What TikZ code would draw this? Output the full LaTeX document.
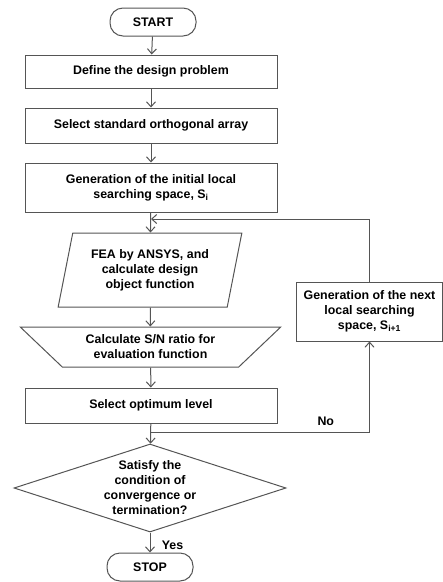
\documentclass[tikz,border=0pt]{standalone}
\usepackage{fontspec}
\setmainfont{Liberation Sans}
\usetikzlibrary{shapes.geometric,arrows.meta}
\definecolor{trait}{HTML}{555555}

\tikzset{
  boite/.style={draw=trait, rectangle, minimum width=252pt, align=center, inner sep=2pt},
  bout/.style={draw=trait, rectangle, rounded corners=13pt, minimum width=86pt, minimum height=28pt},
  fleche/.style={draw=trait, -{Straight Barb[length=5pt,width=9pt]}},
}

\begin{document}
\begin{tikzpicture}[x=1pt, y=-1pt, line width=1pt, font=\fontsize{12.4}{15}\selectfont\bfseries]
\useasboundingbox (0,0) rectangle (443,582);
% START / STOP
\node[bout] (start) at (153,22) {START};
\node[bout] (stop) at (150,567) {STOP};
% boxes of the main column
\node[boite, minimum height=33pt] (def) at (151,71.5) {Define the design problem};
\node[boite, minimum height=35pt] (sel) at (151,125.5) {Select standard orthogonal array};
\node[boite, minimum height=49pt] (gen) at (151,187.5) {Generation of the initial local\\searching space, S\textsubscript{i}};
\node[draw=trait, trapezium, trapezium left angle=75, trapezium right angle=105, trapezium stretches=true,
      minimum width=184pt, minimum height=74pt, inner sep=0pt, align=center] (fea) at (150,270)
      {FEA by ANSYS, and\\calculate design\\object function};
\node[draw=trait, trapezium, shape border rotate=180, trapezium left angle=38, trapezium right angle=38,
      trapezium stretches=true, minimum width=261pt, minimum height=40pt, inner sep=0pt, align=center] (sn) at (150.5,347)
      {Calculate S/N ratio for\\evaluation function};
\node[boite, minimum height=35pt] (opt) at (151,405.5) {Select optimum level};
% decision
\node[draw=trait, diamond, aspect=3.09, minimum width=272pt, minimum height=88pt, inner sep=0pt, align=center] (dec) at (150,488)
      {Satisfy the\\condition of\\convergence or\\termination?};
% box next space
\node[boite, minimum width=146pt, minimum height=59pt] (nxt) at (369.5,311.5) {Generation of the next\\local searching\\space, S\textsubscript{i+1}};
% arrows
\draw[fleche] (start) -- (def);
\draw[fleche] (def) -- (sel);
\draw[fleche] (sel) -- (gen);
\draw[fleche] (gen) -- (fea);
\draw[fleche] (fea) -- (sn);
\draw[fleche] (sn) -- (opt);
\draw[fleche] (opt) -- (dec);
\draw[fleche] (dec) -- node[right, xshift=8pt, yshift=-3pt] (yes) {Yes} (stop);
% loop
\coordinate (j1) at (opt.south |- 0,432);
\coordinate (j2) at (gen.south |- 0,219);
\draw[fleche] (j1) -| node[pos=0.4, above, yshift=3pt] (no) {No} (nxt.south);
\draw[fleche] (nxt.north) |- (j2);
\end{tikzpicture}
\end{document}
